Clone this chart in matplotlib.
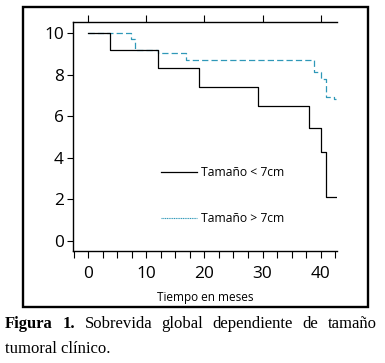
import matplotlib
matplotlib.use('Agg')
import matplotlib.pyplot as plt
from matplotlib.lines import Line2D
from matplotlib.patches import Rectangle
from matplotlib.ticker import MultipleLocator

# curvas de sobrevida (meses, valor)
meses_menor = [0, 3.8, 12.0, 19.1, 29.3, 37.9, 40.1, 40.9, 42.7]
sobrev_menor = [10, 9.2, 8.31, 7.40, 6.48, 5.44, 4.27, 2.10, 2.10]
meses_mayor = [0, 7.3, 8.0, 12.0, 16.9, 38.9, 40.0, 40.9, 42.2, 42.7]
sobrev_mayor = [10, 9.73, 9.2, 9.07, 8.72, 8.15, 7.8, 6.95, 6.82, 6.82]

xticks = [0, 10, 20, 30, 40]
yticks = [0, 2, 4, 6, 8, 10]
leyenda = ['Tamaño < 7cm', 'Tamaño > 7cm']
xlabel = 'Tiempo en meses'
pie1 = ['Figura', '1.', 'Sobrevida', 'global', 'dependiente', 'de', 'tamaño']
pie2 = 'tumoral clínico.'

azul = '#2f98b8'
sans = 'Open Sans'
serif = 'Liberation Serif'

W, H = 385, 363
fig = plt.figure(figsize=(W / 100, H / 100), dpi=100)
ax = fig.add_axes([73 / W, 1 - 251 / H, (337 - 73) / W, (251 - 22) / H])

ax.step(meses_mayor, sobrev_mayor, where='post', color=azul, lw=0.9,
        dashes=(5, 2.5), zorder=2)
ax.step(meses_menor, sobrev_menor, where='post', color='black', lw=0.9,
        zorder=3)

ax.set_xlim(-2.6, 42.8)
ax.set_ylim(-0.48, 10.54)
ax.set_xticks(xticks)
ax.set_yticks(yticks)
ax.xaxis.set_minor_locator(MultipleLocator(2.5))
ax.spines['right'].set_visible(False)
for s in ['left', 'bottom', 'top']:
    ax.spines[s].set_linewidth(1.0)

ax.tick_params(axis='x', which='major', top=True, bottom=True, direction='out',
               length=5, width=0.8, pad=6)
ax.tick_params(axis='x', which='minor', top=False, bottom=True, direction='out',
               length=5, width=0.8)
ax.tick_params(axis='y', direction='out', length=4.5, width=0.8, pad=2)
for lab in ax.get_xticklabels() + ax.get_yticklabels():
    lab.set_fontfamily(sans)
    lab.set_fontsize(12.4)

ax.set_xlabel(xlabel, fontfamily=sans, fontsize=8.5, labelpad=6)

handles = [Line2D([], [], color='black', lw=0.9),
           Line2D([], [], color=azul, lw=0.8, ls=(0, (1, 0.6)))]
leg = ax.legend(handles, leyenda, loc='upper left', bbox_to_anchor=(0.332, 0.37),
                frameon=False, borderpad=0, borderaxespad=0, handlelength=3.0,
                handletextpad=0.3, labelspacing=2.75,
                prop={'family': sans, 'size': 8.7})

# marco exterior
fig.patches.append(Rectangle((23 / W, 1 - 307 / H), (368 - 23) / W, (307 - 7) / H,
                             transform=fig.transFigure, fill=False, lw=1.7,
                             edgecolor='black'))

# pie de figura justificado
fig.canvas.draw()
r = fig.canvas.get_renderer()
txts, anchos = [], []
for i, pal in enumerate(pie1):
    t = fig.text(0, 1 - 328 / H, pal, fontfamily=serif, fontsize=12,
                 fontweight='bold' if i < 2 else 'normal', va='baseline')
    txts.append(t)
    anchos.append(t.get_window_extent(r).width)
x0, x1 = 5, 377
gap = (x1 - x0 - sum(anchos)) / (len(pie1) - 1)
x = x0
for t, w in zip(txts, anchos):
    t.set_x(x / W)
    x += w + gap
fig.text(x0 / W, 1 - 353 / H, pie2, fontfamily=serif, fontsize=12, va='baseline')

fig.savefig('out.png', dpi=100)
